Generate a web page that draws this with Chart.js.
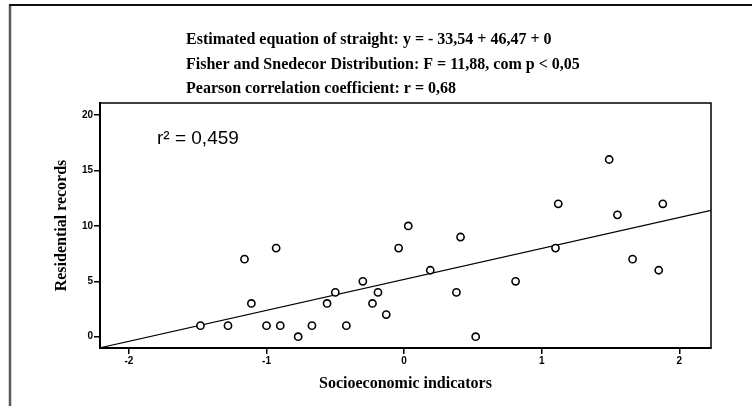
<!DOCTYPE html>
<html>
<head>
<meta charset="utf-8">
<script src="https://cdn.jsdelivr.net/npm/chart.js@4.4.1/dist/chart.umd.min.js"></script>
<style>
  html, body { margin: 0; padding: 0; background: #fff; }
</style>
</head>
<body>
<canvas id="myChart" width="752" height="406"></canvas>
<script>
// socioeconomic indicator (x) against residential records (y), one point per case
const socioX  = [-1.48, -1.28, -1.16, -1.11, -0.93, -1.00, -0.90, -0.77, -0.67, -0.56,
                 -0.50, -0.42, -0.30, -0.23, -0.19, -0.13, -0.04, 0.03, 0.19, 0.41,
                 0.38, 0.52, 0.81, 1.10, 1.12, 1.49, 1.55, 1.66, 1.85, 1.88];
const records = [1, 1, 7, 3, 8, 1, 1, 0, 1, 3,
                 4, 1, 5, 3, 4, 2, 8, 10, 6, 9,
                 4, 0, 5, 8, 12, 16, 11, 7, 6, 12];

// fitted straight line, read at the two edges of the plot
const fitX = [-2.21, 2.23];
const fitY = [-1.0, 11.4];

const xTicks = [-2, -1, 0, 1, 2];
const yTicks = [0, 5, 10, 15, 20];

const headerLines = [
  'Estimated equation of straight: y = - 33,54 + 46,47 + 0',
  'Fisher and Snedecor Distribution: F = 11,88, com p < 0,05',
  'Pearson correlation coefficient: r = 0,68'
];
const r2Label = 'r² = 0,459';

const tickFont = { family: '"Liberation Sans", Arial, sans-serif', size: 10, weight: 'bold' };
const titleFont = { family: '"Liberation Serif", "Times New Roman", serif', size: 16, weight: 'bold' };

// frame, box and the text blocks that are not axis text
const extras = {
  id: 'extras',
  afterDraw(chart) {
    const { ctx, chartArea: a } = chart;
    ctx.save();
    // outer frame (left + top only)
    ctx.strokeStyle = '#5a5a5a';
    ctx.lineWidth = 2.5;
    ctx.beginPath();
    ctx.moveTo(10, 406);
    ctx.lineTo(10, 5);
    ctx.stroke();
    ctx.strokeStyle = '#111';
    ctx.lineWidth = 2;
    ctx.beginPath();
    ctx.moveTo(9, 5);
    ctx.lineTo(752, 5);
    ctx.stroke();
    // plot box
    ctx.strokeStyle = '#000';
    ctx.lineWidth = 1.5;
    ctx.strokeRect(a.left, a.top, a.right - a.left, a.bottom - a.top);
    // header text
    ctx.fillStyle = '#000';
    ctx.textBaseline = 'middle';
    ctx.textAlign = 'left';
    ctx.font = 'bold 16px "Liberation Serif", "Times New Roman", serif';
    headerLines.forEach((t, i) => ctx.fillText(t, 186, 40 + i * 24.5));
    // r squared
    ctx.font = '19px "Liberation Sans", Arial, sans-serif';
    ctx.fillText(r2Label, a.left + 57, a.top + 36);
    ctx.restore();
  }
};

var ctx = document.getElementById('myChart').getContext('2d');
var chart = new Chart(ctx, {
  data: {
    datasets: [
      {
        type: 'scatter',
        data: socioX.map((x, i) => ({ x: x, y: records[i] })),
        pointStyle: 'circle',
        pointRadius: 3.6,
        pointBorderWidth: 1.6,
        borderColor: '#000',
        backgroundColor: '#fff'
      },
      {
        type: 'line',
        data: fitX.map((x, i) => ({ x: x, y: fitY[i] })),
        borderColor: '#000',
        borderWidth: 1.2,
        pointRadius: 0,
        fill: false
      }
    ]
  },
  options: {
    responsive: false,
    animation: false,
    events: [],
    layout: { padding: { top: 103, right: 41, left: 0, bottom: 0 } },
    plugins: { legend: { display: false }, tooltip: { enabled: false } },
    scales: {
      x: {
        type: 'linear',
        position: 'bottom',
        min: -2.21,
        max: 2.23,
        afterBuildTicks: s => { s.ticks = xTicks.map(v => ({ value: v })); },
        afterFit: s => { s.height = 58; },
        ticks: { font: tickFont, color: '#000', padding: 1, maxRotation: 0, autoSkip: false,
                 callback: v => String(v) },
        grid: { drawOnChartArea: false, drawTicks: true, tickLength: 6, color: '#000', lineWidth: 1.5 },
        border: { display: true, color: '#000', width: 2 },
        title: { display: true, text: 'Socioeconomic indicators', font: titleFont, color: '#000',
                 padding: { top: 0, bottom: 13 } }
      },
      y: {
        type: 'linear',
        min: -1.02,
        max: 21.1,
        afterBuildTicks: s => { s.ticks = yTicks.map(v => ({ value: v })); },
        afterFit: s => { s.width = 100; },
        ticks: { font: tickFont, color: '#000', padding: 1, autoSkip: false,
                 callback: v => String(v) },
        grid: { drawOnChartArea: false, drawTicks: true, tickLength: 6, color: '#000', lineWidth: 1.5 },
        border: { display: true, color: '#000', width: 2 },
        title: { display: true, text: 'Residential records', font: titleFont, color: '#000',
                 padding: { top: 52, bottom: 0 } }
      }
    }
  },
  plugins: [extras]
});
</script>
</body>
</html>
